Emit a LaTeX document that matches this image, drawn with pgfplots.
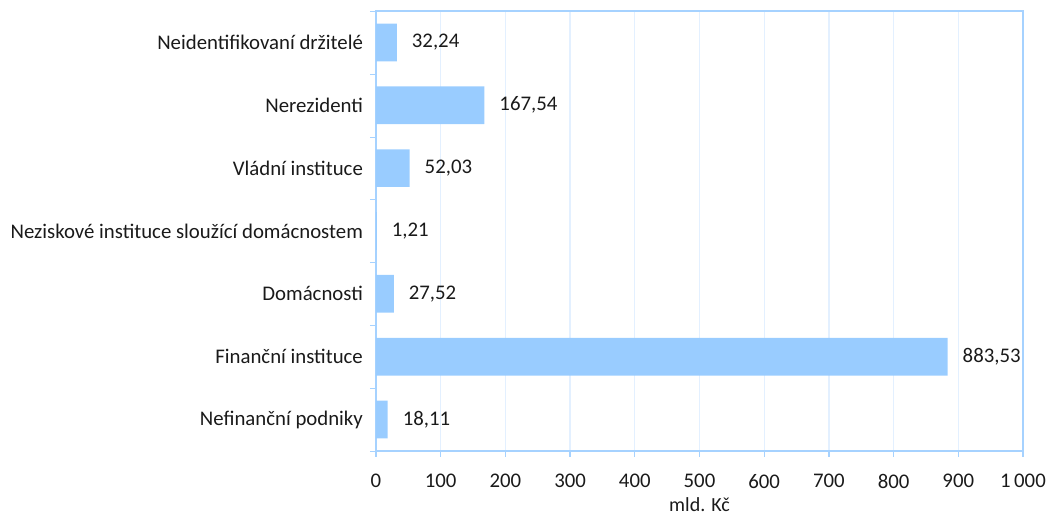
\documentclass[border=0pt]{standalone}
\usepackage{pgfplots}
\pgfplotsset{compat=1.18}
\usepackage{fontspec}
\setmainfont{Carlito}
\definecolor{barblue}{HTML}{99CCFF}
\definecolor{axblue}{HTML}{A6D2FF}
\definecolor{gridblue}{HTML}{E3F0FF}
\definecolor{txt}{HTML}{1A1A1A}
\begin{document}
\begin{tikzpicture}
\begin{axis}[
    xbar,
    scale only axis,
    width=323.5pt, height=220pt,
    xmin=0, xmax=1000,
    ymin=-0.5, ymax=6.5,
    bar width=0.6,
    xtick={0,100,...,1000},
    ytick={0,...,6},
    yticklabels={Nefinanční podniky,Finanční instituce,Domácnosti,Neziskové instituce sloužící domácnostem,Vládní instituce,Nerezidenti,Neidentifikovaní držitelé},
    extra y ticks={-0.5,0.5,...,6.5},
    extra y tick labels={},
    extra y tick style={major tick length=3pt, tick align=outside, grid=none},
    major tick length=3pt,
    tick align=outside,
    ytick style={draw=none},
    extra y tick style={ytick style={draw=axblue}},
    xtick style={draw=axblue, line width=0.6pt},
    xtick pos=bottom, ytick pos=left,
    xmajorgrids,
    grid style={draw=gridblue, line width=0.6pt},
    axis line style={draw=axblue, line width=0.8pt},
    tick label style={font=\fontsize{10.4}{12}\selectfont, text=txt},
    /pgf/number format/assume math mode=true,
    /pgf/number format/1000 sep={\,},
    yticklabel style={xshift=0pt},
    xticklabel style={yshift=-5pt},
    xlabel={mld. Kč},
    xlabel style={font=\fontsize{10}{12}\selectfont, text=txt, yshift=2.5pt},
    nodes near coords,
    nodes near coords style={font=\fontsize{10.4}{12}\selectfont, text=txt, anchor=west, xshift=4pt,
        /pgf/number format/.cd, fixed, fixed zerofill, precision=2, use comma},
]
\addplot[fill=barblue, draw=none] coordinates {
    (18.11,0) (883.53,1) (27.52,2) (1.21,3) (52.03,4) (167.54,5) (32.24,6)};
\end{axis}
\pgfresetboundingbox
\path ([xshift=-188pt,yshift=5.5pt]current axis.north west) rectangle ([xshift=13pt,yshift=-33pt]current axis.south east);
\end{tikzpicture}
\end{document}
